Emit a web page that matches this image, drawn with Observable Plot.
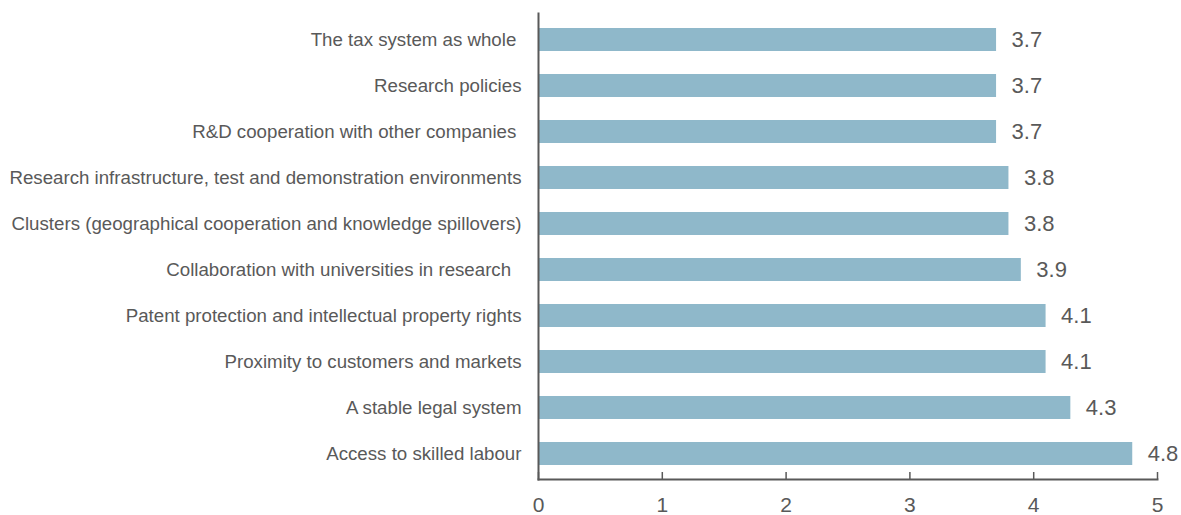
<!DOCTYPE html>
<html><head><meta charset="utf-8">
<script src="https://cdn.jsdelivr.net/npm/d3@7"></script>
<script src="https://cdn.jsdelivr.net/npm/@observablehq/plot@0.6"></script>
<style>html,body{margin:0;padding:0;overflow:hidden;background:#fff;font-family:"Liberation Sans",Arial,sans-serif;}svg{display:block;}</style>
</head><body><div id="chart"></div>
<script>
const categories = [
  "The tax system as whole\u00a0",
  "Research policies",
  "R&D cooperation with other companies\u00a0",
  "Research infrastructure, test and demonstration environments",
  "Clusters (geographical cooperation and knowledge spillovers)",
  "Collaboration with universities in research\u00a0\u00a0",
  "Patent protection and intellectual property rights",
  "Proximity to customers and markets",
  "A stable legal system",
  "Access to skilled labour"
];
const values = [3.7, 3.7, 3.7, 3.8, 3.8, 3.9, 4.1, 4.1, 4.3, 4.8];
const xTicks = [0, 1, 2, 3, 4, 5];
const data = categories.map((c, i) => ({category: c, value: values[i]}));
const grey = "#595959";
const chart = Plot.plot({
  width: 1181, height: 515,
  marginLeft: 538, marginRight: 24, marginTop: 13, marginBottom: 36,
  style: {fontFamily: '"Liberation Sans", Arial, sans-serif', color: grey, background: "#fff", overflow: "visible"},
  x: {domain: [0, 5], ticks: xTicks},
  y: {domain: categories, paddingInner: 0.5, paddingOuter: 0.25, label: null},
  marks: [
    Plot.barX(data, {y: "category", x: "value", fill: "#8fb8ca"}),
    Plot.text(data, {y: "category", x: "value", text: d => d.value.toFixed(1), textAnchor: "start", dx: 15, fontSize: 22, fill: grey}),
    Plot.axisX({ticks: xTicks, tickSize: -7, text: null, stroke: grey, strokeWidth: 1.5, label: null}),
    Plot.text(xTicks, {x: d => d, frameAnchor: "bottom", dy: 25.5, lineAnchor: "middle", text: d => String(d), fontSize: 21, fill: grey}),
    Plot.axisY({tickSize: 0, tickPadding: 17, fontSize: 18.7, label: null, fill: grey}),
    Plot.frame({anchor: "bottom", stroke: grey, strokeWidth: 2}),
    Plot.frame({anchor: "left", stroke: grey, strokeWidth: 2})
  ]
});
document.getElementById("chart").appendChild(chart);
</script></body></html>
